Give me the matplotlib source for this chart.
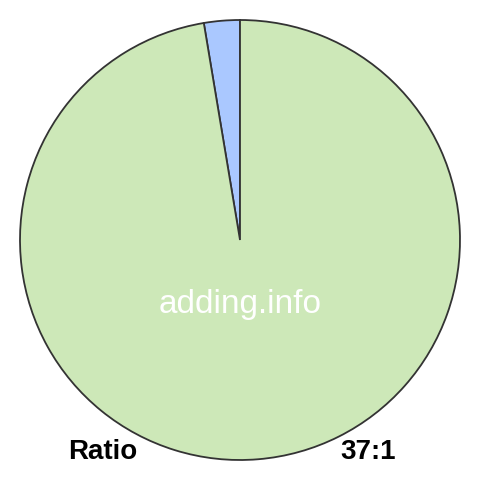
import matplotlib
matplotlib.use("Agg")
import matplotlib.pyplot as plt

labels = ["37", "1"]
values = [37, 1]
colors = ["#cde8b8", "#aac8ff"]

ratio_label = "Ratio"
ratio_text = "37:1"
watermark = "adding.info"

plt.rcParams["font.family"] = ["Liberation Sans", "DejaVu Sans"]

fig = plt.figure(figsize=(4.8, 4.8), dpi=100)
ax = fig.add_axes([0, 0, 1, 1])

# small slice first, counterclockwise from the top
ax.pie(values[::-1], colors=colors[::-1], startangle=90, counterclock=True,
       radius=1.0, center=(0, 0),
       wedgeprops=dict(edgecolor="#333333", linewidth=1.3))

lim = 240 / 220
ax.set_xlim(-lim, lim)
ax.set_ylim(-lim, lim)
ax.set_aspect("equal")
ax.axis("off")

ax.text(0, -0.295, watermark, color="white", fontsize=24,
        ha="center", va="center")

fig.text(68 / 480, 1 - 452 / 480, ratio_label, fontsize=20,
         fontweight="bold", ha="left", va="center")
fig.text(396 / 480, 1 - 452 / 480, ratio_text, fontsize=20,
         fontweight="bold", ha="right", va="center")

fig.savefig("out.png", dpi=100)
